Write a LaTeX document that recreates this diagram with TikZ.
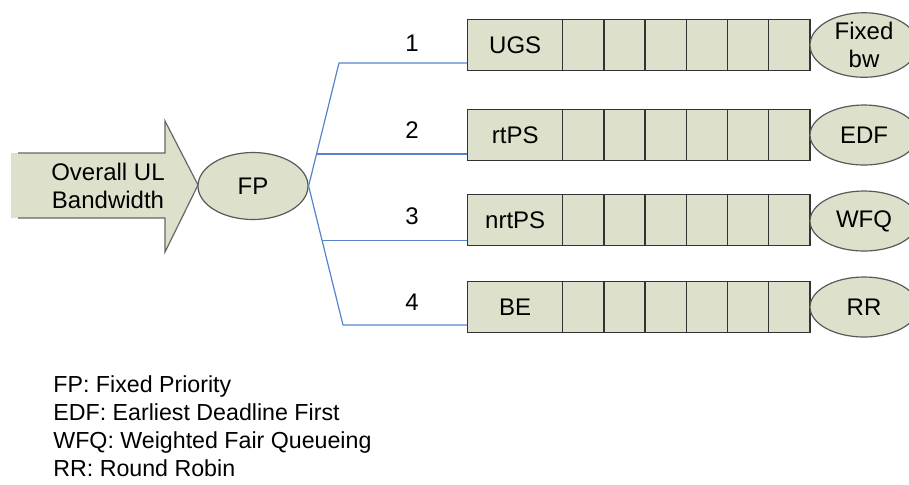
\documentclass[tikz,border=0pt]{standalone}
\usepackage{fontspec}
\setmainfont{Liberation Sans}
\usetikzlibrary{shapes.geometric,calc}
\definecolor{sage}{RGB}{221,224,203}
\definecolor{linkblue}{RGB}{88,130,205}

\begin{document}
\begin{tikzpicture}[x=0.5pt,y=-0.5pt,
    txt/.style={font=\fontsize{12}{14}\selectfont},
    classbox/.style={draw=black!80,fill=sage,line width=0.7pt,minimum width=47.5pt,minimum height=25.5pt,inner sep=0pt,anchor=west,txt},
    slot/.style={draw=black!80,fill=sage,line width=0.7pt,minimum width=20.6pt,minimum height=25.5pt,inner sep=0pt,anchor=west},
    sched/.style={ellipse,draw=black!65,fill=sage,line width=0.6pt,minimum width=54pt,minimum height=30pt,inner sep=0pt,align=center,txt},
    link/.style={draw=linkblue,line width=0.6pt},
    legend/.style={anchor=base west,inner sep=0pt,font=\fontsize{11.6}{14}\selectfont}]

    \useasboundingbox (0,0) rectangle (909,484);

    % big input arrow
    \fill[sage] (11,153) -- (165,153) -- (165,121) -- (198,185) -- (165,252) -- (165,218) -- (11,218) -- cycle;
    \draw[black!60,line width=0.6pt] (18,153) -- (165,153) -- (165,121) -- (198,185) -- (165,252) -- (165,218) -- (18,218);
    \node[txt,align=center] (input) at (108,186) {Overall UL\\Bandwidth};

    \node[ellipse,draw=black!65,fill=sage,line width=0.6pt,minimum width=55pt,minimum height=33.5pt,inner sep=0pt,txt] (fp) at (253,186) {FP};

    % service classes
    \node[classbox] (ugs) at (467,45) {UGS};
    \node[classbox] (rtps) at (467,135) {rtPS};
    \node[classbox] (nrtps) at (467,220) {nrtPS};
    \node[classbox] (be) at (467,307) {BE};

    \foreach \y in {45,135,220,307}
      \foreach \i in {0,...,5}
        \node[slot] at (562+41.2*\i,\y) {};

    \node[sched] (fixed) at (864,45) {Fixed\\bw};
    \node[sched] (edf) at (864,135) {EDF};
    \node[sched] (wfq) at (864,221) {WFQ};
    \node[sched] (rr) at (864,307) {RR};

    % priority links
    \coordinate (up) at (339,63);
    \coordinate (down) at (343,325);
    \coordinate (b2) at ($(fp.east)!0.26!(up)$);
    \coordinate (b3) at ($(fp.east)!0.39!(down)$);
    \draw[link] (fp.east) -- (up) -- (up -| ugs.west);
    \draw[link] (fp.east) -- (down) -- (down -| be.west);
    \draw[link] (b2) -- (b2 -| rtps.west);
    \draw[link] (b3) -- (b3 -| nrtps.west);

    \node[txt] (n1) at (412,43.5) {1};
    \node[txt] (n2) at (412,130) {2};
    \node[txt] (n3) at (412,216) {3};
    \node[txt] (n4) at (412,302) {4};

    % legend
    \node[legend] (l1) at (53,392) {FP: Fixed Priority};
    \node[legend] (l2) at (53,420) {EDF: Earliest Deadline First};
    \node[legend] (l3) at (53,448) {WFQ: Weighted Fair Queueing};
    \node[legend] (l4) at (53,476) {RR: Round Robin};
\end{tikzpicture}
\end{document}
